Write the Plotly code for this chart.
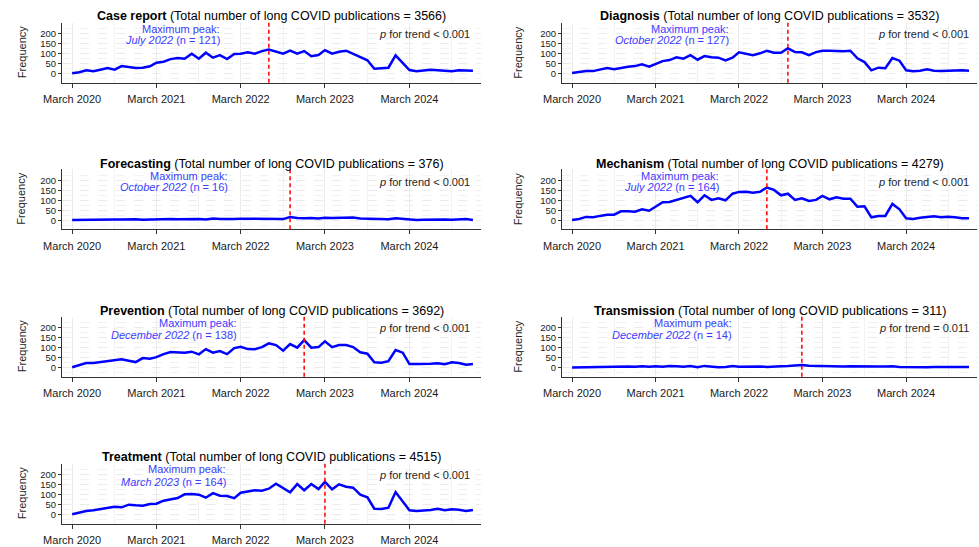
import pandas as pd
import plotly.graph_objects as go

# ---------------- data ----------------
months = pd.date_range("2020-03-01", periods=58, freq="MS")

categories = ["Case report", "Diagnosis", "Forecasting", "Mechanism",
              "Prevention", "Transmission", "Treatment"]
totals = [3566, 3532, 376, 4279, 3692, 311, 4515]
p_trend = ["< 0.001", "< 0.001", "< 0.001", "< 0.001", "< 0.001", "= 0.011", "< 0.001"]

case_report = [2, 7, 17, 12, 20, 28, 20, 38, 33, 28, 30, 37,
               55, 60, 73, 78, 75, 100, 75, 105, 80, 93, 73, 98,
               100, 107, 100, 113, 121, 110, 100, 115, 100, 113, 87, 93,
               118, 100, 110, 115, 100, 85, 67, 25, 27, 30, 92, 52,
               18, 12, 17, 20, 17, 15, 12, 17, 15, 15]
diagnosis = [3, 7, 13, 13, 20, 28, 22, 30, 35, 38, 47, 35,
             48, 63, 68, 82, 75, 93, 70, 88, 82, 80, 67, 80,
             107, 98, 92, 102, 115, 105, 105, 127, 108, 107, 93, 108,
             115, 115, 113, 112, 115, 77, 58, 17, 30, 27, 78, 65,
             17, 12, 15, 22, 15, 13, 15, 17, 17, 15]
forecasting = [1, 2, 3, 3, 4, 3, 4, 4, 5, 5, 3, 5,
               6, 6, 7, 5, 6, 6, 7, 4, 9, 6, 8, 7,
               8, 8, 9, 8, 9, 9, 6, 16, 11, 10, 12, 9,
               13, 12, 12, 11, 14, 9, 8, 6, 3, 5, 10, 7,
               3, 2, 3, 4, 4, 4, 3, 4, 6, 2]
mechanism = [2, 7, 17, 15, 22, 28, 28, 45, 45, 43, 55, 48,
             68, 90, 92, 102, 112, 122, 90, 125, 102, 110, 100, 133,
             142, 143, 138, 143, 164, 152, 125, 133, 102, 110, 97, 102,
             122, 105, 115, 108, 108, 68, 70, 15, 22, 22, 82, 55,
             10, 7, 13, 17, 20, 15, 18, 15, 10, 10]
prevention = [2, 12, 23, 23, 28, 32, 35, 42, 35, 28, 48, 45,
              53, 68, 78, 75, 75, 80, 67, 93, 75, 83, 68, 98,
              105, 93, 92, 103, 122, 113, 85, 118, 100, 138, 100, 103,
              132, 103, 113, 113, 103, 77, 70, 27, 25, 33, 88, 75,
              18, 18, 18, 20, 22, 17, 27, 23, 15, 18]
transmission = [1, 2, 3, 1, 3, 4, 5, 5, 6, 5, 7, 5,
                7, 5, 9, 7, 5, 8, 2, 9, 5, 2, 4, 8,
                5, 6, 7, 6, 4, 7, 7, 8, 10, 14, 10, 9,
                9, 6, 8, 6, 7, 6, 7, 7, 6, 6, 7, 4,
                3, 4, 3, 2, 3, 2, 2, 3, 4, 4]
treatment = [2, 12, 18, 22, 27, 33, 40, 37, 50, 47, 45, 53,
             55, 70, 75, 83, 102, 103, 100, 85, 108, 95, 93, 83,
             110, 115, 122, 120, 130, 155, 135, 112, 153, 122, 153, 128,
             164, 127, 152, 140, 135, 100, 87, 30, 28, 35, 113, 68,
             22, 18, 20, 23, 30, 22, 27, 25, 18, 23]

series = [case_report, diagnosis, forecasting, mechanism,
          prevention, transmission, treatment]

# ---------------- layout geometry (pixels) ----------------
W, H = 979, 547
row_top = [22.7, 169.3, 316.7, 463.7]
row_h = 60
title_y = [15.5, 164, 310.7, 457.3]
peak1_y = [29, 176.3, 323, 469.3]
peak2_y = [40.3, 187.3, 334.5, 481.7]
ptrend_y = [34.3, 181.7, 328.3, 475]
col_left = [62, 562]
col_right = [481, 977]
peak_right = [221, 730, 229, 720, 238, 733, 227]
ptrend_right = [471, 970]
freq_x = [21.5, 518]


def px(x):
    return x / W


def py(y):
    return 1 - y / H


FONT = "Liberation Sans, Arial, sans-serif"
BLUE_TXT = "#3c3cff"
GRID = "#ebebeb"
AX = "#333333"

fig = go.Figure()
annotations = []
shapes = []

for i, (cat, vals) in enumerate(zip(categories, series)):
    r, c = divmod(i, 2)
    k = i + 1
    xa = "x" if k == 1 else f"x{k}"
    ya = "y" if k == 1 else f"y{k}"
    fig.add_trace(go.Scatter(x=months, y=vals, mode="lines",
                             line=dict(color="#0000ff", width=2.5),
                             xaxis=xa, yaxis=ya, showlegend=False,
                             hoverinfo="skip"))
    top = row_top[r]
    bot = top + row_h
    fig.layout[f"xaxis{k}" if k > 1 else "xaxis"] = dict(
        domain=[px(col_left[c]), px(col_right[c])],
        anchor=ya, type="date", automargin=False,
        range=["2020-01-17", "2025-01-05"],
        tickvals=[pd.Timestamp(f"{yy}-03-01") for yy in range(2020, 2025)],
        ticktext=[f"March {yy}" for yy in range(2020, 2025)],
        ticks="outside", ticklen=4, tickcolor=AX, tickwidth=1,
        showline=True, linecolor=AX, linewidth=1,
        showgrid=True, gridcolor=GRID, gridwidth=1,
        minor=dict(tickvals=[pd.Timestamp(f"{yy}-09-01") for yy in range(2020, 2025)],
                   showgrid=True, gridcolor="#f2f2f2", gridwidth=1, ticks=""),
        tickfont=dict(family=FONT, size=11, color="#1a1a1a"),
        ticklabelstandoff=2,
        zeroline=False, fixedrange=True,
    )
    fig.layout[f"yaxis{k}" if k > 1 else "yaxis"] = dict(
        domain=[py(bot), py(top)],
        anchor=xa, range=[-45, 255], automargin=False,
        tickvals=[0, 50, 100, 150, 200],
        ticks="outside", ticklen=3, tickcolor=AX, tickwidth=1,
        showline=True, linecolor=AX, linewidth=1,
        showgrid=True, gridcolor=GRID, gridwidth=1, griddash="dash",
        minor=dict(tick0=25, dtick=50, showgrid=True, gridcolor="#f2f2f2",
                   gridwidth=1, griddash="dash", ticks=""),
        tickfont=dict(family=FONT, size=9.5, color="#1a1a1a"),
        zeroline=False, fixedrange=True,
    )
    # peak line
    imax = max(range(len(vals)), key=lambda j: vals[j])
    peak_date = months[imax]
    shapes.append(dict(type="line", xref=xa, yref=f"{ya} domain",
                       x0=peak_date, x1=peak_date, y0=0, y1=1,
                       line=dict(color="#ff0000", width=1.5, dash="4px,3px")))
    # title
    annotations.append(dict(
        text=f"<b>{cat}</b> (Total number of long COVID publications = {totals[i]})",
        xref="paper", yref="paper",
        x=px((col_left[c] + col_right[c]) / 2), y=py(title_y[r]),
        xanchor="center", yanchor="middle", showarrow=False, borderpad=0,
        font=dict(family=FONT, size=12.5, color="#000000")))
    # peak annotation
    annotations.append(dict(
        text="Maximum peak:", xref="paper", yref="paper",
        x=px(peak_right[i]), y=py(peak1_y[r]),
        xanchor="right", yanchor="middle", showarrow=False, borderpad=0,
        font=dict(family=FONT, size=11, color=BLUE_TXT)))
    annotations.append(dict(
        text=f"<i>{peak_date.strftime('%B %Y')}</i> (n = {vals[imax]})",
        xref="paper", yref="paper",
        x=px(peak_right[i]), y=py(peak2_y[r]),
        xanchor="right", yanchor="middle", showarrow=False, borderpad=0,
        font=dict(family=FONT, size=11, color=BLUE_TXT)))
    # p for trend
    pt = p_trend[i].replace("<", "&lt;")
    annotations.append(dict(
        text=f"<i>p</i> for trend {pt}", xref="paper", yref="paper",
        x=px(ptrend_right[c]), y=py(ptrend_y[r]),
        xanchor="right", yanchor="middle", showarrow=False, borderpad=0,
        font=dict(family=FONT, size=11, color="#262626")))
    # y title
    annotations.append(dict(
        text="Frequency", xref="paper", yref="paper",
        x=px(freq_x[c]), y=py((top + bot) / 2), textangle=-90,
        xanchor="center", yanchor="middle", showarrow=False, borderpad=0,
        font=dict(family=FONT, size=11, color="#262626")))

fig.update_layout(
    width=W, height=H,
    margin=dict(l=0, r=0, t=0, b=0, autoexpand=False),
    paper_bgcolor="white", plot_bgcolor="white",
    annotations=annotations, shapes=shapes,
    showlegend=False,
)

fig.write_html("out.html", config={"displayModeBar": False},
               post_script="document.body.style.margin='0';"
                           "document.body.style.overflow='hidden';")
